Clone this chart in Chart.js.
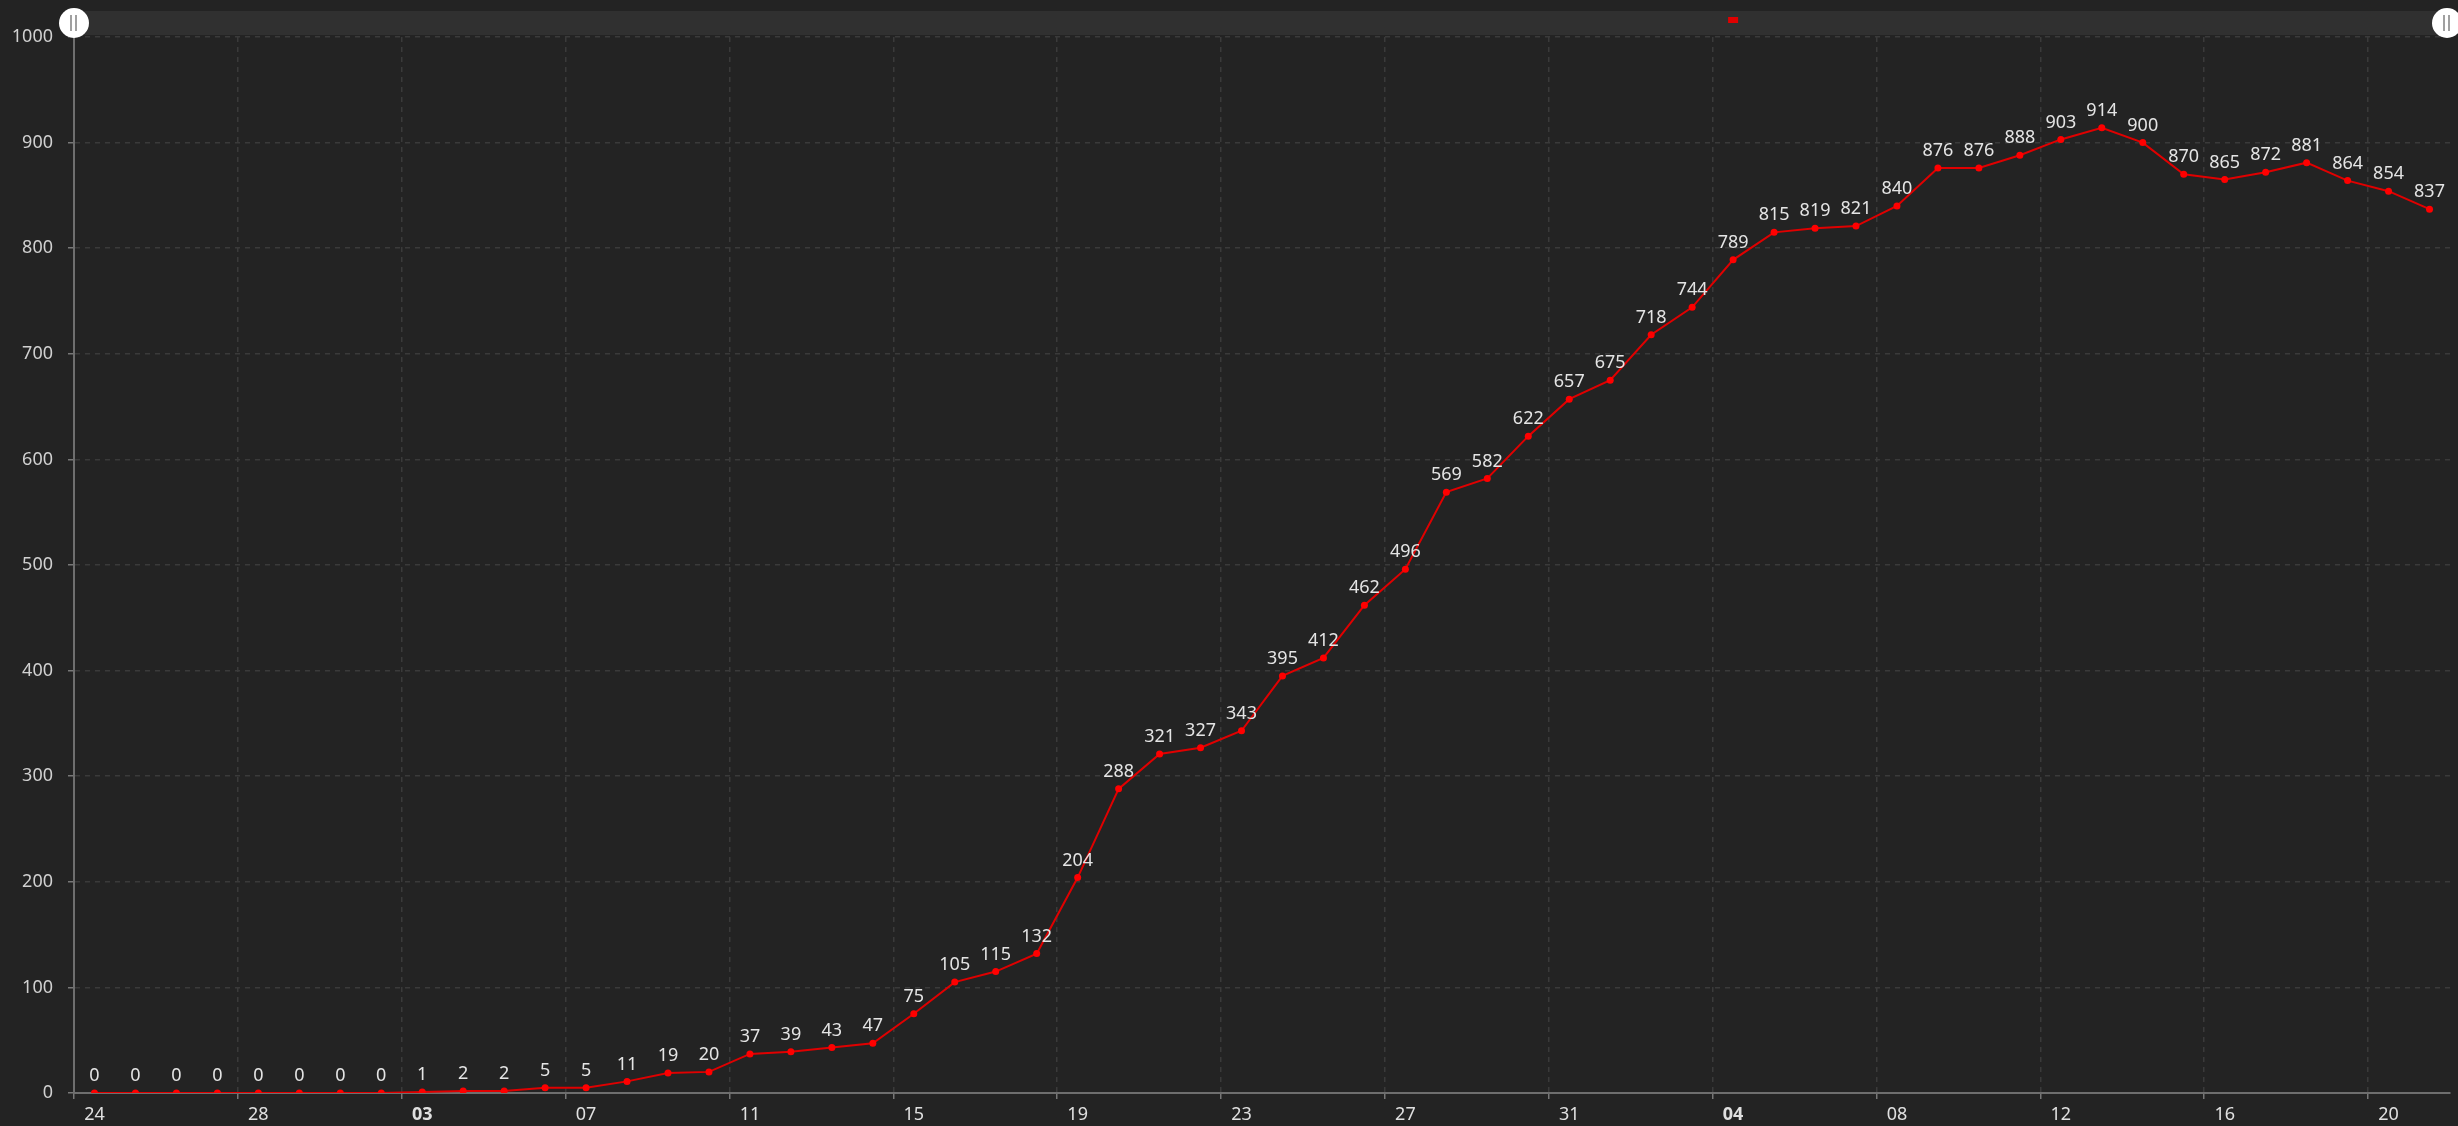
<!DOCTYPE html>
<html>
<head>
<meta charset="utf-8">
<script src="https://cdn.jsdelivr.net/npm/chart.js@4"></script>
<style>
  html, body { margin: 0; padding: 0; background: #232323; overflow: hidden; }
  #wrap { width: 2458px; height: 1126px; }
</style>
</head>
<body>
<div id="wrap"><canvas id="line-chart" width="2458" height="1126"></canvas></div>
<script>
// days, Feb 24 to Apr 21
var days = [
  "02-24","02-25","02-26","02-27","02-28","02-29",
  "03-01","03-02","03-03","03-04","03-05","03-06","03-07","03-08","03-09","03-10",
  "03-11","03-12","03-13","03-14","03-15","03-16","03-17","03-18","03-19","03-20",
  "03-21","03-22","03-23","03-24","03-25","03-26","03-27","03-28","03-29","03-30","03-31",
  "04-01","04-02","04-03","04-04","04-05","04-06","04-07","04-08","04-09","04-10",
  "04-11","04-12","04-13","04-14","04-15","04-16","04-17","04-18","04-19","04-20","04-21"
];
var cases = [
  0,0,0,0,0,0,0,0,1,2,2,5,5,11,19,20,37,39,43,47,75,105,115,132,204,288,321,327,
  343,395,412,462,496,569,582,622,657,675,718,744,789,815,819,821,840,876,876,888,
  903,914,900,870,865,872,881,864,854,837
];
var yTicks = [0,100,200,300,400,500,600,700,800,900,1000];
var markDay = "04-04";

const fam = "'Noto Sans', 'Liberation Sans', Arial, sans-serif";
const every = 4;

const isNewMonth = (i) => i >= every && days[i].slice(0, 2) !== days[i - every].slice(0, 2);

const bgPlugin = {
  id: "bg",
  beforeDraw(chart) {
    const c = chart.ctx;
    c.save();
    c.fillStyle = "#232323";
    c.fillRect(0, 0, chart.width, chart.height);
    c.restore();
  }
};

// zoom slider bar on top
const sliderPlugin = {
  id: "slider",
  afterDraw(chart) {
    const c = chart.ctx, a = chart.chartArea;
    c.save();
    c.fillStyle = "#303030";
    c.fillRect(a.left, a.top - 26, a.right - a.left, 24);
    const xs = chart.scales.x;
    const mx = xs.getPixelForValue(days.indexOf(markDay));
    c.fillStyle = "#e00000";
    c.fillRect(mx - 5, a.top - 20, 10, 6);
    [a.left, a.right - 3].forEach(function (hx) {
      const hy = a.top - 14;
      c.beginPath();
      c.arc(hx, hy, 15, 0, Math.PI * 2);
      c.fillStyle = "#ffffff";
      c.fill();
      c.fillStyle = "#a0a0a0";
      c.fillRect(hx - 4, hy - 8, 2, 16);
      c.fillRect(hx + 1, hy - 8, 2, 16);
    });
    c.restore();
  }
};

// value above each point
const labelPlugin = {
  id: "vlabels",
  afterDatasetsDraw(chart) {
    const c = chart.ctx;
    const meta = chart.getDatasetMeta(0);
    c.save();
    c.font = "18px " + fam;
    c.fillStyle = "#e4e4e4";
    c.textAlign = "center";
    c.textBaseline = "middle";
    meta.data.forEach(function (pt, i) {
      c.fillText(String(cases[i]), pt.x, pt.y - 17);
    });
    c.restore();
  }
};

let covChart = new Chart(document.getElementById("line-chart"), {
  type: "line",
  data: {
    labels: days,
    datasets: [
      {
        data: cases,
        borderColor: "#e00000",
        borderWidth: 2,
        pointBackgroundColor: "#ff0000",
        pointBorderWidth: 0,
        pointRadius: 3.5,
        tension: 0,
        fill: false
      }
    ]
  },
  options: {
    responsive: false,
    devicePixelRatio: 1,
    animation: false,
    layout: { padding: { top: 37, right: 8, left: 0, bottom: 0 } },
    plugins: { legend: { display: false }, tooltip: { enabled: false } },
    scales: {
      x: {
        offset: true,
        grid: {
          offset: true,
          color: (ctx) => (ctx.index % every === 0 && ctx.index < days.length ? "#3a3a3a" : "transparent"),
          lineWidth: 1.5,
          tickColor: (ctx) => (ctx.index % every === 0 && ctx.index < days.length ? "#777777" : "transparent"),
          tickLength: 6,
          tickWidth: 1.5,
          tickBorderDash: []
        },
        border: { color: "#6e6e6e", width: 2, dash: [5, 5] },
        ticks: {
          autoSkip: false,
          maxRotation: 0,
          padding: 5,
          color: "#e0e0e0",
          font: (ctx) => ({ family: fam, size: 18, weight: isNewMonth(ctx.index) ? "bold" : "normal" }),
          callback: (v, i) => (i % every === 0 ? days[i].slice(3) : "")
        },
        afterFit: (s) => { s.height = 33; }
      },
      y: {
        min: 0,
        max: 1000,
        afterBuildTicks: (s) => { s.ticks = yTicks.map((v) => ({ value: v })); },
        grid: {
          color: "#3a3a3a",
          lineWidth: 1.5,
          tickColor: "#777777",
          tickLength: 6,
          tickWidth: 1.5,
          tickBorderDash: []
        },
        border: { color: "#6e6e6e", width: 2, dash: [5, 5] },
        ticks: {
          padding: 15,
          color: "#d0d0d0",
          font: { family: fam, size: 18 },
          callback: (v) => String(v)
        },
        afterFit: (s) => { s.width = 74; }
      }
    }
  },
  plugins: [bgPlugin, labelPlugin, sliderPlugin]
});
</script>
</body>
</html>
